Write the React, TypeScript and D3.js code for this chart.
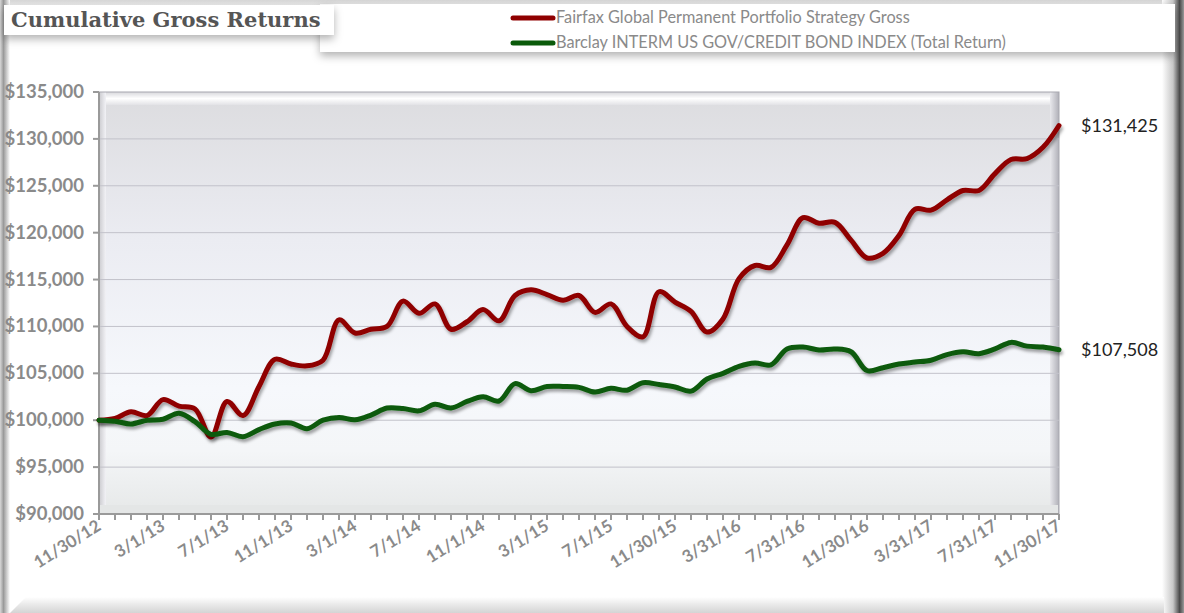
import React from "react";
import * as d3 from "d3";

const tickLabels = [
  "11/30/12", "3/1/13", "7/1/13", "11/1/13", "3/1/14", "7/1/14", "11/1/14", "3/1/15",
  "7/1/15", "11/30/15", "3/31/16", "7/31/16", "11/30/16", "3/31/17", "7/31/17", "11/30/17",
];

const fairfax = [
  100000, 100200, 100900, 100500, 102200, 101500, 101200, 98200, 102000, 100500,
  103600, 106500, 106000, 105800, 106400, 110700, 109300, 109700, 110000, 112700,
  111400, 112400, 109700, 110500, 111800, 110600, 113300, 113900, 113400, 112800,
  113300, 111500, 112400, 110000, 108900, 113700, 112600, 111600, 109400, 110800,
  115100, 116500, 116300, 118700, 121600, 121000, 121100, 119200, 117300, 117800,
  119700, 122500, 122400, 123500, 124500, 124500, 126300, 127800, 127900, 129100,
  131425,
];

const barclay = [
  100000, 99900, 99600, 100000, 100100, 100750, 99850, 98500, 98700, 98250,
  99000, 99600, 99700, 99100, 100000, 100300, 100050, 100550, 101300, 101250,
  101000, 101700, 101300, 102000, 102500, 102050, 103900, 103150, 103600, 103600,
  103500, 103000, 103400, 103200, 104000, 103800, 103550, 103100, 104400, 105000,
  105750, 106100, 105900, 107600, 107800, 107500, 107600, 107300, 105300, 105600,
  106000, 106200, 106400, 107000, 107300, 107100, 107600, 108300, 107900, 107800,
  107508,
];

const yTicks = [90000, 95000, 100000, 105000, 110000, 115000, 120000, 125000, 130000, 135000];

const seriesNames = [
  "Fairfax Global Permanent Portfolio Strategy Gross",
  "Barclay INTERM US GOV/CREDIT BOND INDEX (Total Return)",
];
const seriesColors = ["#8f0000", "#0a5a0a"];

export default function App() {
  const W = 1184, H = 613;
  const left = 99, right = 1059, top = 92, bottom = 514;
  const n = fairfax.length;
  const x = d3.scaleLinear().domain([0, n - 1]).range([left, right]);
  const y = d3.scaleLinear().domain([90000, 135000]).range([bottom, top]);
  const line = d3
    .line<number>()
    .x((_, i) => x(i))
    .y((d) => y(d))
    .curve(d3.curveCatmullRom.alpha(0.5));
  const fmt = d3.format("$,");
  const labelFont = "Lato, 'Open Sans', sans-serif";
  const series = [fairfax, barclay];

  return (
    <svg width={W} height={H} style={{ position: "absolute", left: 0, top: 0 }}>
      <defs>
        <linearGradient id="plotBg" x1="0" y1="0" x2="0" y2="1">
          <stop offset="0" stopColor="#dcdcdf" />
          <stop offset="0.35" stopColor="#ebecf2" />
          <stop offset="0.7" stopColor="#f6f8fc" />
          <stop offset="0.85" stopColor="#f4f6f8" />
          <stop offset="1" stopColor="#e6e8e8" />
        </linearGradient>
        <linearGradient id="leftBar" x1="0" y1="0" x2="1" y2="0">
          <stop offset="0" stopColor="#d8d8d8" />
          <stop offset="0.35" stopColor="#9a9a9a" />
          <stop offset="1" stopColor="#ffffff" />
        </linearGradient>
        <linearGradient id="rightBar" x1="0" y1="0" x2="1" y2="0">
          <stop offset="0" stopColor="#ffffff" />
          <stop offset="0.5" stopColor="#c8c8c8" />
          <stop offset="0.8" stopColor="#4a4a4a" />
          <stop offset="1" stopColor="#9a9a9a" />
        </linearGradient>
        <linearGradient id="bottomBar" x1="0" y1="0" x2="0" y2="1">
          <stop offset="0" stopColor="#ffffff" />
          <stop offset="0.5" stopColor="#e8e8e8" />
          <stop offset="1" stopColor="#d4d4d4" />
        </linearGradient>
        <linearGradient id="topBar" x1="0" y1="0" x2="0" y2="1">
          <stop offset="0" stopColor="#d6d6d6" />
          <stop offset="1" stopColor="#f4f4f4" />
        </linearGradient>
        <linearGradient id="bevelTop" x1="0" y1="0" x2="0" y2="1">
          <stop offset="0" stopColor="#d8d8dc" />
          <stop offset="0.5" stopColor="#ffffff" />
          <stop offset="1" stopColor="#e2e2e6" />
        </linearGradient>
        <linearGradient id="bevelRight" x1="0" y1="0" x2="1" y2="0">
          <stop offset="0" stopColor="#e8e8ec" />
          <stop offset="1" stopColor="#b0b0b8" />
        </linearGradient>
        <linearGradient id="bevelLeft" x1="0" y1="0" x2="1" y2="0">
          <stop offset="0" stopColor="#d0d0d4" />
          <stop offset="1" stopColor="#f2f2f6" />
        </linearGradient>
        <filter id="lineShadow" x="-5%" y="-10%" width="110%" height="130%">
          <feDropShadow dx="1.5" dy="3" stdDeviation="1.8" floodColor="#000" floodOpacity="0.35" />
        </filter>
        <filter id="boxShadow" x="-5%" y="-30%" width="110%" height="180%">
          <feDropShadow dx="0" dy="4" stdDeviation="4" floodColor="#000" floodOpacity="0.3" />
        </filter>
      </defs>

      <rect x={0} y={0} width={W} height={H} fill="#ffffff" />
      <rect x={0} y={0} width={W} height={7} fill="url(#topBar)" />
      <rect x={0} y={0} width={10} height={H} fill="url(#leftBar)" />
      <rect x={1162} y={0} width={22} height={H} fill="url(#rightBar)" />
      <path d={`M 10 613 L 26 597 L 1164 597 L 1164 613 Z`} fill="url(#bottomBar)" />

      {/* legend box */}
      <rect x={320} y={4} width={855} height={48} fill="#ffffff" filter="url(#boxShadow)" />
      {seriesNames.map((name, i) => (
        <g key={name}>
          <line
            x1={513}
            x2={553}
            y1={18 + i * 25}
            y2={18 + i * 25}
            stroke={seriesColors[i]}
            strokeWidth={5}
            strokeLinecap="round"
          />
          <text
            x={556}
            y={23 + i * 25}
            fontFamily={labelFont}
            fontSize={16.3}
            fill="#8a8a8a"
          >
            {name}
          </text>
        </g>
      ))}

      {/* title box */}
      <rect x={4} y={5} width={330} height={30} fill="#ffffff" filter="url(#boxShadow)" />
      <text
        x={11}
        y={27}
        fontFamily="'DejaVu Serif', serif"
        fontWeight="bold"
        fontSize={21}
        fill="#555555"
      >
        Cumulative Gross Returns
      </text>

      {/* plot area */}
      <rect x={left} y={top} width={right - left} height={bottom - top} fill="url(#plotBg)" />
      <rect x={left + 1} y={top} width={right - left - 2} height={13} fill="url(#bevelTop)" />
      <rect x={left + 1} y={top} width={6} height={bottom - top} fill="url(#bevelLeft)" />
      <rect x={right - 9} y={top} width={9} height={bottom - top} fill="url(#bevelRight)" />
      <rect x={left + 1} y={bottom - 9} width={right - left - 2} height={9} fill="#e4e6e6" />
      <rect
        x={left}
        y={top}
        width={right - left}
        height={bottom - top}
        fill="none"
        stroke="#a8a8b0"
        strokeWidth={1}
      />

      {yTicks.slice(1, -1).map((t) => (
        <line key={t} x1={left} x2={right} y1={y(t)} y2={y(t)} stroke="#c2c2ca" strokeWidth={1} />
      ))}

      {/* y axis */}
      <line x1={left} x2={left} y1={top} y2={bottom} stroke="#9a9a9a" strokeWidth={2} />
      {yTicks.map((t) => (
        <g key={t}>
          <line x1={left - 6} x2={left} y1={y(t)} y2={y(t)} stroke="#9a9a9a" strokeWidth={2} />
          <text
            x={84}
            y={y(t) + 6}
            textAnchor="end"
            fontFamily={labelFont}
            fontWeight="bold"
            fontSize={18.5}
            fill="#8a8a8a"
          >
            {fmt(t)}
          </text>
        </g>
      ))}

      {/* x axis */}
      <line x1={left} x2={right} y1={bottom} y2={bottom} stroke="#9a9a9a" strokeWidth={2} />
      {fairfax.map((_, i) => (
        <line key={i} x1={x(i)} x2={x(i)} y1={bottom} y2={bottom + 6} stroke="#9a9a9a" strokeWidth={2} />
      ))}
      {tickLabels.map((lab, k) => (
        <text
          key={lab}
          transform={`translate(${x(k * 4) + 3},${bottom + 15}) rotate(-32)`}
          textAnchor="end"
          fontFamily={labelFont}
          fontWeight="bold"
          fontSize={17}
          fill="#8a8a8a"
        >
          {lab}
        </text>
      ))}

      {/* series */}
      {series.map((s, i) => (
        <path
          key={i}
          d={line(s) || ""}
          fill="none"
          stroke={seriesColors[i]}
          strokeWidth={5}
          strokeLinejoin="round"
          strokeLinecap="round"
          filter="url(#lineShadow)"
        />
      ))}

      {/* end labels */}
      {series.map((s, i) => (
        <text
          key={i}
          x={1081}
          y={y(s[s.length - 1]) + 6}
          fontFamily={labelFont}
          fontSize={18}
          fill="#222222"
        >
          {fmt(s[s.length - 1])}
        </text>
      ))}
    </svg>
  );
}
